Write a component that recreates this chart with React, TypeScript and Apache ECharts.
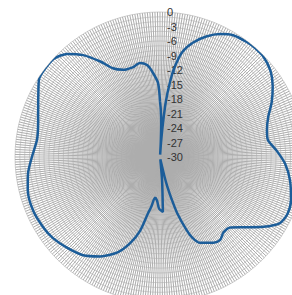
import React, { useEffect, useRef } from 'react';
import * as echarts from 'echarts';

// Angle (degrees, clockwise from top) and gain (dB)
const angles = [
  0, 1, 2, 3, 3.5, 4, 5, 6, 7.5, 9, 12, 16, 21, 26, 31, 37, 41, 46, 52, 58, 64, 70, 76, 81, 87,
  93, 100, 108, 114, 119, 124, 130, 135, 140, 144, 148, 155, 158, 160, 163, 164.5, 166, 167, 169,
  172, 175, 177, 181, 184, 187, 190, 192, 195, 199, 204, 211, 218, 226, 233, 239, 247, 256, 263,
  270, 278, 284, 291, 298, 303, 308, 313, 318, 323, 328, 332, 337, 343, 348, 352, 355, 358.5, 360,
];
const gains = [
  -18.5, -20.3, -23, -27, -29.5, -27, -23, -18.5, -14.6, -11.5, -7.8, -5.4, -3.3, -1.7, -0.6, -0.2,
  -0.1, -0.2, -1.0, -2.5, -4.3, -6.2, -7.2, -7.4, -5.8, -4.1, -2.7, -1.5, -1.1, -1.7, -4.2, -7.4,
  -9.4, -9.6, -8.8, -9.1, -10.4, -11.9, -13.9, -17.9, -20.8, -23.6, -25.7, -29, -29.5, -25, -18.6,
  -19.3, -21, -21.5, -19.5, -18.1, -14.3, -11.2, -8.4, -6.0, -4.2, -3.1, -2.2, -1.8, -1.5, -1.8,
  -2.5, -3.5, -4.3, -4.0, -3.0, -1.5, -0.2, 0, -0.1, -1.3, -3.6, -6.7, -9.2, -10.4, -10.6, -10.1,
  -10.8, -12.4, -14.7, -18.5,
];
const radiusMin = -30;
const radiusMax = 0;
const radiusStep = 3;

export default function App() {
  const ref = useRef<HTMLDivElement>(null);
  useEffect(() => {
    document.body.style.margin = '0';
    const chart = echarts.init(ref.current!, null, { renderer: 'svg' });
    chart.setOption({
      animation: false,
      polar: { center: [160, 157], radius: 145 },
      angleAxis: {
        type: 'value',
        min: 0,
        max: 360,
        interval: 1,
        startAngle: 90,
        clockwise: true,
        axisLine: { show: false },
        axisTick: { show: false },
        axisLabel: { show: false },
        splitLine: { show: true, lineStyle: { color: '#adadad', width: 1 } },
      },
      radiusAxis: {
        type: 'value',
        min: radiusMin,
        max: radiusMax,
        interval: radiusStep,
        axisLine: { show: false },
        axisTick: { show: false },
        axisLabel: {
          show: true,
          formatter: (v: number) => String(v),
          color: '#333',
          fontSize: 11,
          fontFamily: 'Liberation Sans, Arial, sans-serif',
          align: 'left',
          margin: -7,
        },
        splitLine: { show: true, lineStyle: { color: '#c4c4c4', width: 0.8 } },
        minorTick: { show: false, splitNumber: 3 },
        minorSplitLine: { show: true, lineStyle: { color: '#c8c8c8', width: 0.8 } },
      },
      series: [
        {
          type: 'line',
          coordinateSystem: 'polar',
          data: angles.map((a, i) => [gains[i], a]),
          showSymbol: false,
          smooth: 0.25,
          lineStyle: { color: '#1c5d99', width: 2.5 },
          z: 10,
        },
      ],
    });
    return () => chart.dispose();
  }, []);
  return <div ref={ref} style={{ width: 292, height: 295 }} />;
}
